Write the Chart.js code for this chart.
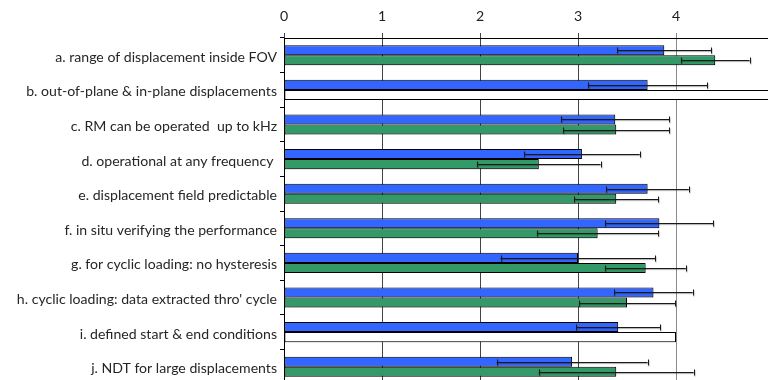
<!DOCTYPE html>
<html>
<head>
<meta charset="utf-8">
<script src="https://cdn.jsdelivr.net/npm/chart.js@4/dist/chart.umd.min.js"></script>
<style>
  html, body { margin: 0; padding: 0; background: #fff; overflow: hidden; }
  #wrap { position: relative; width: 790px; height: 390px; }
</style>
</head>
<body>
<div id="wrap"><canvas id="c" width="790" height="390"></canvas></div>
<script>
// Criteria rated in the survey
const criteria = [
  'a. range of displacement inside FOV',
  'b. out-of-plane & in-plane displacements',
  'c. RM can be operated  up to kHz',
  'd. operational at any frequency ',
  'e. displacement field predictable',
  'f. in situ verifying the performance',
  'g. for cyclic loading: no hysteresis',
  'h. cyclic loading: data extracted thro\' cycle',
  'i. defined start & end conditions',
  'j. NDT for large displacements'
];

// Mean scores and error bar half-widths, first group (blue)
const blueMean = [3.88, 3.71, 3.38, 3.04, 3.71, 3.83, 3.00, 3.77, 3.41, 2.94];
const blueErr  = [0.48, 0.61, 0.55, 0.59, 0.42, 0.55, 0.79, 0.40, 0.43, 0.77];

// Mean scores and error bar half-widths, second group (green); null = no error bar
const greenMean = [4.40, 5.00, 3.39, 2.60, 3.39, 3.20, 3.69, 3.50, 4.00, 3.39];
const greenErr  = [0.35, null, 0.54, 0.63, 0.43, 0.62, 0.41, 0.49, null, 0.79];

// Value axis ticks
const xTicks = [0, 1, 2, 3, 4, 5];

const BLUE = '#3366FF';
const GREEN = '#339966';
const greenFill = greenErr.map(e => e === null ? '#FFFFFF' : GREEN);

// Soft drop shadow under the bars
const barShadow = {
  id: 'barShadow',
  beforeDatasetDraw(chart) {
    const ctx = chart.ctx;
    ctx.save();
    ctx.shadowColor = 'rgba(0,0,0,0.35)';
    ctx.shadowOffsetX = 1;
    ctx.shadowOffsetY = 1.5;
    ctx.shadowBlur = 1.5;
  },
  afterDatasetDraw(chart) {
    chart.ctx.restore();
  }
};

// Horizontal error bars with end caps
const errorBars = {
  id: 'errorBars',
  afterDatasetsDraw(chart) {
    const ctx = chart.ctx;
    const xs = chart.scales.x;
    chart.data.datasets.forEach((ds, d) => {
      const meta = chart.getDatasetMeta(d);
      meta.data.forEach((bar, i) => {
        const e = ds.errors[i];
        if (e === null || e === undefined) return;
        const m = ds.data[i];
        const x1 = xs.getPixelForValue(m - e);
        const x2 = xs.getPixelForValue(m + e);
        const y = Math.round(bar.y) + 0.5;
        ctx.save();
        ctx.shadowColor = 'rgba(0,0,0,0.35)';
        ctx.shadowOffsetX = 0.5;
        ctx.shadowOffsetY = 1;
        ctx.shadowBlur = 1;
        ctx.strokeStyle = '#1a1a1a';
        ctx.lineWidth = 1;
        ctx.beginPath();
        ctx.moveTo(x1, y); ctx.lineTo(x2, y);
        ctx.moveTo(Math.round(x1) + 0.5, y - 3); ctx.lineTo(Math.round(x1) + 0.5, y + 3);
        ctx.moveTo(Math.round(x2) + 0.5, y - 3); ctx.lineTo(Math.round(x2) + 0.5, y + 3);
        ctx.stroke();
        ctx.restore();
      });
    });
  }
};

const FONT = { family: 'Lato, "Open Sans", sans-serif', size: 14.1 };

new Chart(document.getElementById('c'), {
  type: 'bar',
  data: {
    labels: criteria,
    datasets: [
      {
        data: blueMean,
        errors: blueErr,
        backgroundColor: BLUE,
        borderColor: '#000',
        borderWidth: 1,
        borderSkipped: false
      },
      {
        data: greenMean,
        errors: greenErr,
        backgroundColor: greenFill,
        borderColor: '#000',
        borderWidth: 1,
        borderSkipped: false
      }
    ]
  },
  options: {
    indexAxis: 'y',
    responsive: false,
    animation: false,
    events: [],
    layout: { padding: { top: 0, left: 0, right: 16, bottom: 6 } },
    datasets: { bar: { categoryPercentage: 0.58, barPercentage: 1.0 } },
    plugins: { legend: { display: false }, tooltip: { enabled: false } },
    scales: {
      x: {
        position: 'top',
        min: 0,
        max: 5,
        afterBuildTicks(scale) { scale.ticks = xTicks.map(v => ({ value: v })); },
        afterFit(scale) {
          scale.height = 38;
          scale.paddingLeft = 0;
          scale.paddingRight = 0;
        },
        ticks: { font: FONT, color: '#222', padding: 8, maxRotation: 0 },
        grid: {
          drawOnChartArea: true,
          tickLength: 5,
          color: ctx => (ctx.tick && ctx.tick.value >= 4) ? '#8a8a8a' : '#444',
          lineWidth: 1
        },
        border: { display: true, color: '#000', width: 1 }
      },
      y: {
        afterFit(scale) {
          scale.width = 284;
          scale.paddingTop = 0;
          scale.paddingBottom = 0;
        },
        ticks: { font: FONT, color: '#262626', padding: 3, autoSkip: false, labelOffset: 2 },
        grid: {
          offset: true,
          drawOnChartArea: false,
          tickLength: 4,
          color: '#000'
        },
        border: { display: true, color: '#000', width: 1 }
      }
    }
  },
  plugins: [barShadow, errorBars]
});
</script>
</body>
</html>
